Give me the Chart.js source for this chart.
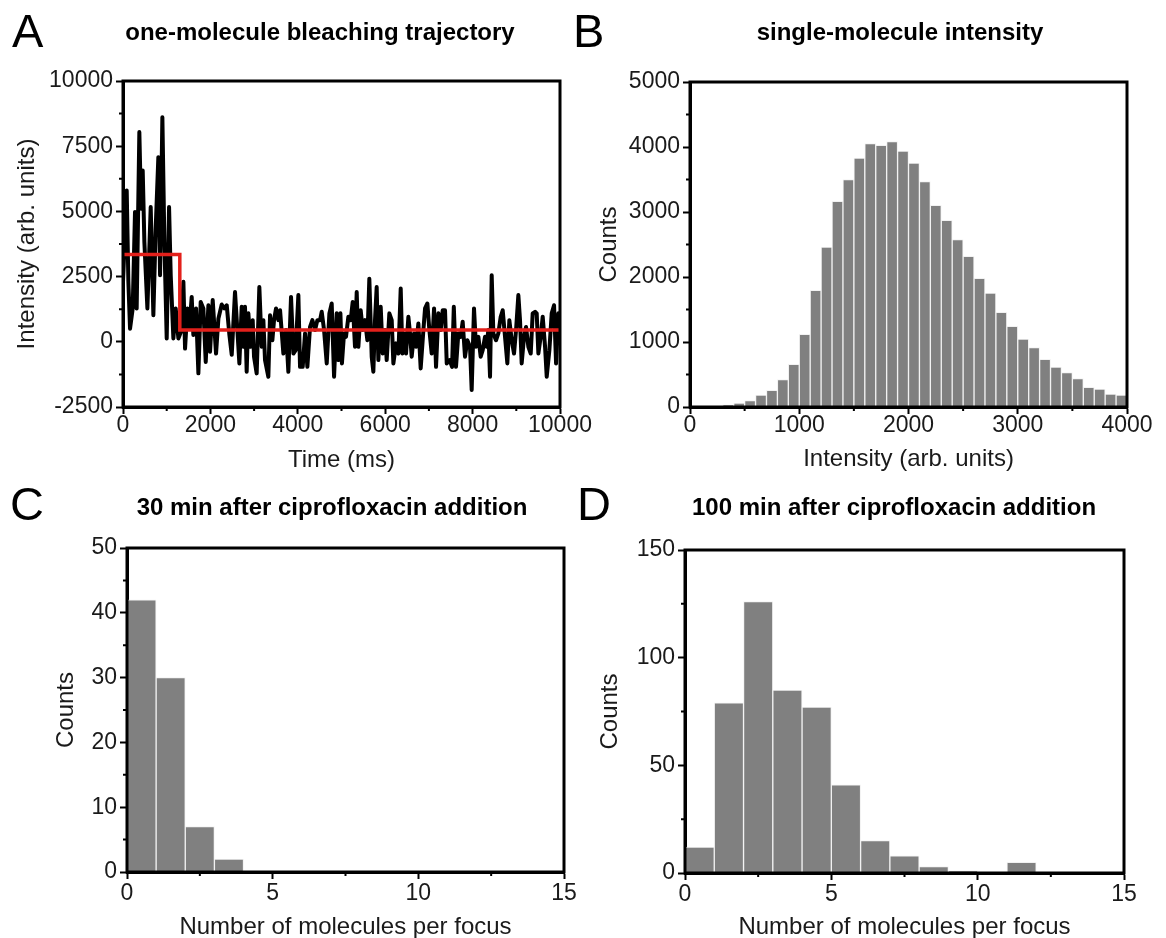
<!DOCTYPE html>
<html>
<head>
<meta charset="utf-8">
<script src="https://cdn.jsdelivr.net/npm/chart.js@4.4.1/dist/chart.umd.min.js"></script>
<style>
html, body { margin: 0; padding: 0; background: #fff; }
body { width: 1166px; height: 938px; position: relative; overflow: hidden; }
canvas { position: absolute; }
</style>
</head>
<body>
<canvas id="cA"></canvas>
<canvas id="cB"></canvas>
<canvas id="cC"></canvas>
<canvas id="cD"></canvas>
<script>
// ---------- Panel A: one-molecule bleaching trajectory ----------
const traceTimeMs = [0,85,123,161,222,275,313,374,413,451,489,558,634,695,748,809,848,901,947,1000,1054,1092,1153,1206,1267,1330,1382,1420,1473,1519,1572,1610,1671,1725,1778,1839,1893,1954,1992,2053,2129,2183,2259,2320,2374,2435,2488,2563,2617,2663,2716,2754,2792,2830,2869,2922,2968,2998,3059,3120,3174,3212,3250,3326,3365,3418,3456,3502,3555,3594,3670,3731,3784,3845,3899,3952,4013,4051,4112,4166,4219,4280,4334,4395,4448,4509,4547,4601,4662,4723,4776,4830,4891,4929,4975,5010,5058,5103,5157,5210,5256,5309,5348,5386,5439,5485,5538,5592,5637,5691,5729,5767,5805,5843,5897,5943,5996,6034,6095,6149,6187,6248,6302,6355,6393,6431,6477,6530,6568,6606,6660,6706,6759,6812,6874,6912,6965,7011,7064,7118,7163,7217,7270,7316,7369,7408,7475,7530,7570,7620,7674,7727,7773,7826,7880,7941,7979,8032,8078,8132,8185,8231,8284,8322,8360,8399,8437,8475,8536,8589,8643,8689,8742,8795,8841,8895,8948,8994,9047,9085,9123,9177,9223,9276,9330,9375,9429,9467,9505,9558,9604,9658,9696,9757,9810,9864,9910,9963,10000];
const traceIntensity = [2300,5800,2300,500,1280,4980,1280,8040,5100,6570,3830,1280,5170,1020,4340,7080,2550,8610,3830,130,5170,2550,130,1280,130,400,2300,-260,1280,510,1720,260,1280,-1210,1530,1280,-770,1400,-380,1600,-450,890,1430,1280,1400,260,-500,1910,450,-830,1340,-190,1340,-1150,1090,-190,830,-570,-1210,2100,-190,830,-700,-1340,1020,60,830,1280,830,1210,-450,450,-1150,1720,-450,-320,1790,-960,-960,320,-960,570,830,450,830,830,1150,450,-830,1090,1470,-1340,1090,-700,1090,-830,320,190,960,830,1530,-190,1910,-190,1210,450,830,60,2420,-570,-1150,830,2100,-700,1340,-450,450,-700,1090,830,-830,-60,-450,2040,-450,320,-450,960,320,-570,320,-190,700,-1020,450,1280,1470,450,-450,1280,-960,1090,450,1210,1210,-830,-700,-960,1340,-960,320,190,770,-570,60,-190,-1850,1280,-190,190,-570,-320,190,-190,450,-1340,2550,320,60,320,960,1210,190,-830,830,60,-450,450,1790,830,-830,190,570,-190,-450,1090,1150,1090,-450,190,960,-190,-1340,-320,1090,1400,-830,1090,-60];
const fitTimeMs = [0, 1300, 10000];
const fitIntensity = [3350, 450, 450];

// ---------- Panel B: single-molecule intensity histogram ----------
const intensityBinCenters = [50,150,250,350,450,550,650,750,850,950,1050,1150,1250,1350,1450,1550,1650,1750,1850,1950,2050,2150,2250,2350,2450,2550,2650,2750,2850,2950,3050,3150,3250,3350,3450,3550,3650,3750,3850,3950];
const intensityCounts = [0,0,0,35,60,100,185,255,420,656,1118,1795,2462,3164,3497,3831,4051,4026,4082,3938,3754,3467,3103,2872,2574,2318,1979,1754,1456,1241,1046,913,733,615,528,436,303,277,200,185];

// ---------- Panel C: 30 min after ciprofloxacin ----------
const focus30BinCenters = [0.5, 1.5, 2.5, 3.5];
const focus30Counts = [42, 30, 7, 2];

// ---------- Panel D: 100 min after ciprofloxacin ----------
const focus100BinCenters = [0.5,1.5,2.5,3.5,4.5,5.5,6.5,7.5,8.5,9.5,10.5,11.5];
const focus100Counts = [12, 79, 126, 85, 77, 41, 15, 8, 3, 1, 0, 5];

// ---------- Text ----------
const panelLetters = ['A', 'B', 'C', 'D'];
const panelTitles = ['one-molecule bleaching trajectory', 'single-molecule intensity',
  '30 min after ciprofloxacin addition', '100 min after ciprofloxacin addition'];

const FONT = '"Liberation Sans", Arial, Helvetica, sans-serif';
Chart.defaults.font.family = FONT;
Chart.defaults.color = '#1a1a1a';
Chart.defaults.animation = false;

const decoPlugin = {
  id: 'deco',
  afterDraw(chart, args, o) {
    const ctx = chart.ctx, a = chart.chartArea;
    const xs = chart.scales.x, ys = chart.scales.y;
    ctx.save();
    ctx.strokeStyle = '#000';
    ctx.lineWidth = 2;
    ctx.beginPath();
    for (let v = xs.min + o.xMajor / 2; v < xs.max; v += o.xMajor) {
      const px = xs.getPixelForValue(v);
      ctx.moveTo(px, a.bottom); ctx.lineTo(px, a.bottom + 4);
    }
    for (let v = ys.min + o.yMajor / 2; v < ys.max; v += o.yMajor) {
      const py = ys.getPixelForValue(v);
      ctx.moveTo(a.left, py); ctx.lineTo(a.left - 4, py);
    }
    ctx.stroke();
    ctx.lineWidth = 3;
    ctx.strokeRect(a.left, a.top, a.right - a.left, a.bottom - a.top);
    ctx.fillStyle = '#000';
    ctx.textBaseline = 'alphabetic';
    ctx.textAlign = 'left';
    ctx.font = '47px ' + FONT;
    ctx.fillText(o.letter, o.letterX, o.letterY);
    ctx.textAlign = 'center';
    ctx.font = 'bold 24px ' + FONT;
    ctx.fillText(o.title, o.titleX, o.titleY);
    ctx.restore();
  }
};

function makePanel(id, frame, area, cfg) {
  const c = document.getElementById(id);
  c.width = frame.w; c.height = frame.h;
  c.style.left = frame.x + 'px'; c.style.top = frame.y + 'px';
  c.style.width = frame.w + 'px'; c.style.height = frame.h + 'px';
  const L = area.l - frame.x, T = area.t - frame.y, R = area.r - frame.x, B = area.b - frame.y;
  const num = v => String(v);
  return new Chart(c, {
    type: cfg.type,
    data: { datasets: cfg.datasets },
    plugins: [decoPlugin],
    options: {
      responsive: false,
      animation: false,
      devicePixelRatio: 1,
      layout: { autoPadding: false, padding: { left: 0, top: T, right: frame.w - R, bottom: 0 } },
      plugins: {
        legend: { display: false },
        tooltip: { enabled: false },
        title: { display: false },
        deco: Object.assign({ xMajor: cfg.x.step, yMajor: cfg.y.step }, cfg.deco)
      },
      scales: {
        x: {
          type: 'linear', min: cfg.x.min, max: cfg.x.max, offset: false, z: 1,
          ticks: { stepSize: cfg.x.step, autoSkip: false, maxRotation: 0, font: { size: 23 },
                   padding: cfg.x.tickPad, callback: num, color: '#1a1a1a' },
          grid: { display: true, offset: false, drawOnChartArea: false, drawTicks: true,
                  tickLength: 7, tickWidth: 2, tickColor: '#000' },
          border: { display: true, color: '#000', width: 3 },
          title: { display: true, text: cfg.x.title, font: { size: 24 }, color: '#1a1a1a',
                   padding: { top: 0, bottom: cfg.x.titlePad } },
          afterFit: s => { s.height = frame.h - B; s.paddingLeft = 0; s.paddingRight = 0; }
        },
        y: {
          type: 'linear', min: cfg.y.min, max: cfg.y.max, z: 1,
          ticks: { stepSize: cfg.y.step, autoSkip: false, font: { size: 23 },
                   padding: 3, callback: num, color: '#1a1a1a' },
          grid: { display: true, drawOnChartArea: false, drawTicks: true,
                  tickLength: 7, tickWidth: 2, tickColor: '#000' },
          border: { display: true, color: '#000', width: 3 },
          title: { display: true, text: cfg.y.title, font: { size: 24 }, color: '#1a1a1a',
                   padding: { top: cfg.y.titlePad, bottom: 0 } },
          afterFit: s => { s.width = L; s.paddingTop = 0; s.paddingBottom = 0; }
        }
      }
    }
  });
}

function barDataset(centers, counts) {
  return {
    data: centers.map((c, i) => ({ x: c, y: counts[i] })),
    backgroundColor: '#808080',
    borderColor: '#f2f2f2',
    borderWidth: 1,
    barPercentage: 1,
    categoryPercentage: 1,
    grouped: false
  };
}

// Panel A
makePanel('cA', { x: 0, y: 0, w: 600, h: 480 }, { l: 123, t: 81, r: 560, b: 407 }, {
  type: 'line',
  datasets: [
    {
      data: fitTimeMs.map((t, i) => ({ x: t, y: fitIntensity[i] })),
      borderColor: '#e3201b', borderWidth: 3.5, stepped: true, pointRadius: 0, order: 0, fill: false
    },
    {
      data: traceTimeMs.map((t, i) => ({ x: t, y: traceIntensity[i] })),
      borderColor: '#000', borderWidth: 4, pointRadius: 0, tension: 0, order: 1, fill: false,
      borderJoinStyle: 'round', borderCapStyle: 'round'
    }
  ],
  x: { min: 0, max: 10000, step: 2000, title: 'Time (ms)', tickPad: -2, titlePad: 5 },
  y: { min: -2500, max: 10000, step: 2500, title: 'Intensity (arb. units)', titlePad: 13 },
  deco: { letter: panelLetters[0], letterX: 12, letterY: 47, title: panelTitles[0], titleX: 320, titleY: 40 }
});

// Panel B
makePanel('cB', { x: 560, y: 0, w: 606, h: 480 }, { l: 690, t: 82, r: 1127, b: 407 }, {
  type: 'bar',
  datasets: [barDataset(intensityBinCenters, intensityCounts)],
  x: { min: 0, max: 4000, step: 1000, title: 'Intensity (arb. units)', tickPad: -2, titlePad: 6 },
  y: { min: 0, max: 5000, step: 1000, title: 'Counts', titlePad: 35 },
  deco: { letter: panelLetters[1], letterX: 13, letterY: 47, title: panelTitles[1], titleX: 340, titleY: 40 }
});

// Panel C
makePanel('cC', { x: 0, y: 460, w: 600, h: 478 }, { l: 127, t: 548, r: 564, b: 872 }, {
  type: 'bar',
  datasets: [barDataset(focus30BinCenters, focus30Counts)],
  x: { min: 0, max: 15, step: 5, title: 'Number of molecules per focus', tickPad: 1, titlePad: -4 },
  y: { min: 0, max: 50, step: 10, title: 'Counts', titlePad: 52 },
  deco: { letter: panelLetters[2], letterX: 10, letterY: 60, title: panelTitles[2], titleX: 332, titleY: 55 }
});

// Panel D
makePanel('cD', { x: 560, y: 460, w: 606, h: 478 }, { l: 685, t: 550, r: 1124, b: 873 }, {
  type: 'bar',
  datasets: [barDataset(focus100BinCenters, focus100Counts)],
  x: { min: 0, max: 15, step: 5, title: 'Number of molecules per focus', tickPad: 1, titlePad: -4 },
  y: { min: 0, max: 150, step: 50, title: 'Counts', titlePad: 36 },
  deco: { letter: panelLetters[3], letterX: 17, letterY: 60, title: panelTitles[3], titleX: 334, titleY: 55 }
});
</script>
</body>
</html>
